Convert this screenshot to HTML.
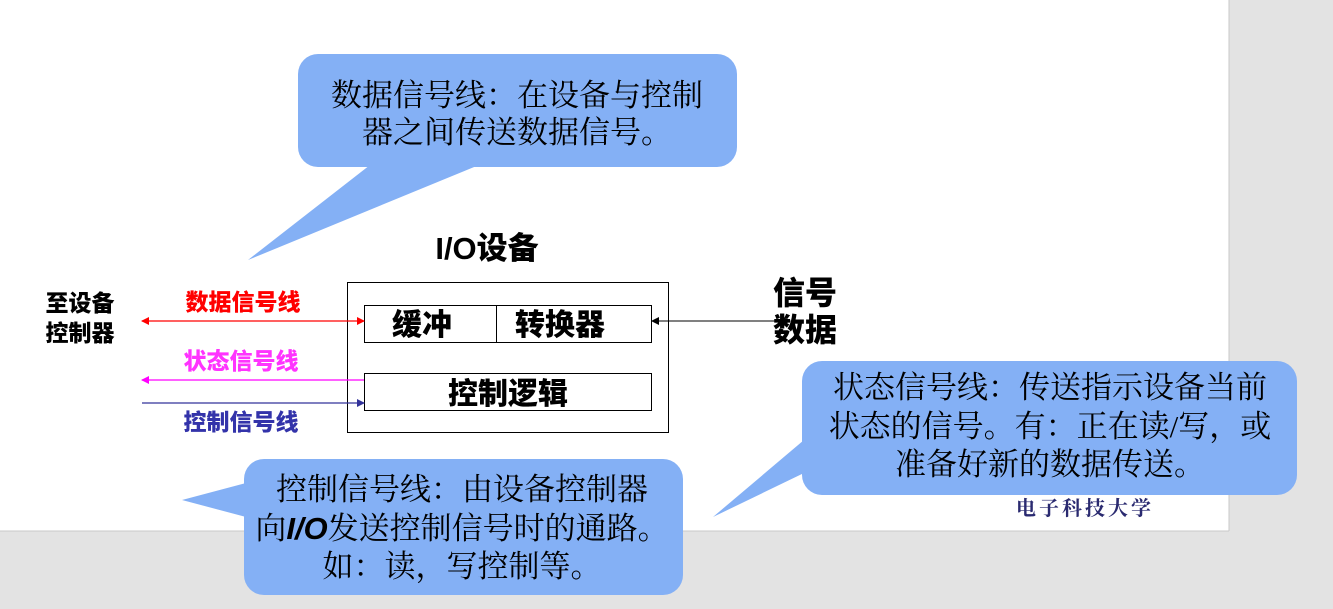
<!DOCTYPE html>
<html><head><meta charset="utf-8"><style>
html,body{margin:0;padding:0;background:#e3e3e3;}
svg{display:block}
.b{font-family:"Liberation Sans","Noto Sans CJK SC",sans-serif;font-weight:900}
.s{font-family:"Liberation Serif","Noto Serif CJK SC",serif;font-size:31px;fill:#000}
</style></head><body>
<svg width="1333" height="609" viewBox="0 0 1333 609">
<defs>
<marker id="rr" markerWidth="8" markerHeight="8" refX="7" refY="4" orient="auto-start-reverse" markerUnits="userSpaceOnUse"><path d="M0,0 L8,4 L0,8z" fill="#f00"/></marker>
<marker id="mm" markerWidth="8" markerHeight="8" refX="7" refY="4" orient="auto-start-reverse" markerUnits="userSpaceOnUse"><path d="M0,0 L8,4 L0,8z" fill="#f0f"/></marker>
<marker id="bb" markerWidth="8" markerHeight="8" refX="7" refY="4" orient="auto-start-reverse" markerUnits="userSpaceOnUse"><path d="M0,0 L8,4 L0,8z" fill="#33339a"/></marker>
<marker id="kk" markerWidth="8" markerHeight="8" refX="7" refY="4" orient="auto-start-reverse" markerUnits="userSpaceOnUse"><path d="M0,0 L8,4 L0,8z" fill="#000"/></marker>
</defs>
<rect x="0" y="0" width="1229" height="531" fill="#fff"/>
<line x1="0" y1="531" x2="1229" y2="531" stroke="#c8c8c8"/>
<line x1="1229" y1="0" x2="1229" y2="531" stroke="#c8c8c8"/>

<rect x="347.5" y="282.5" width="321" height="150" fill="none" stroke="#000"/>
<rect x="364.5" y="305.5" width="287" height="37" fill="none" stroke="#000"/>
<line x1="496.5" y1="305" x2="496.5" y2="342" stroke="#000"/>
<rect x="364.5" y="373.5" width="287" height="37" fill="none" stroke="#000"/>
<text class="b" x="422" y="335" font-size="30" text-anchor="middle">缓冲</text>
<text class="b" x="560" y="335" font-size="30" text-anchor="middle">转换器</text>
<text class="b" x="508" y="404" font-size="30" text-anchor="middle">控制逻辑</text>
<text class="b" x="487" y="259" font-size="31" text-anchor="middle">I/O设备</text>

<line x1="142" y1="321" x2="364" y2="321" stroke="#f00" stroke-width="1.2" marker-start="url(#rr)" marker-end="url(#rr)"/>
<line x1="364" y1="380" x2="142" y2="380" stroke="#f0f" stroke-width="1.2" marker-end="url(#mm)"/>
<line x1="142" y1="403" x2="364" y2="403" stroke="#33339a" stroke-width="1.2" marker-end="url(#bb)"/>
<line x1="652" y1="321" x2="790" y2="321" stroke="#000" stroke-width="1" marker-start="url(#kk)" marker-end="url(#kk)"/>

<text class="b" x="80" y="311" font-size="23" text-anchor="middle">至设备</text>
<text class="b" x="80" y="341" font-size="23" text-anchor="middle">控制器</text>
<text class="b" x="243" y="310" font-size="23" fill="#f00" text-anchor="middle">数据信号线</text>
<text class="b" x="241" y="369" font-size="23" fill="#f3f" text-anchor="middle">状态信号线</text>
<text class="b" x="241" y="430" font-size="23" fill="#3333aa" text-anchor="middle">控制信号线</text>
<text class="b" x="773" y="304" font-size="32">信号</text>
<text class="b" x="773" y="341" font-size="32">数据</text>
<text x="1085" y="515" font-size="20" fill="#2a2a70" text-anchor="middle" font-family="'Liberation Serif','Noto Serif CJK SC',serif" font-weight="bold" letter-spacing="3">电子科技大学</text>

<g fill="#84b0f5">
<rect x="298" y="54" width="439" height="113" rx="20"/>
<path d="M370,165 L479,165 L248,260z"/>
<rect x="802" y="361" width="495" height="134" rx="20"/>
<path d="M804,440 L804,473 L713,517z"/>
<rect x="244" y="459" width="439" height="136" rx="20"/>
<path d="M246,483 L246,517 L182,500z"/>
</g>
<text class="s" x="517" y="106" text-anchor="middle">数据信号线：在设备与控制</text>
<text class="s" x="517" y="143" text-anchor="middle">器之间传送数据信号。</text>
<text class="s" x="1050" y="398" text-anchor="middle">状态信号线：传送指示设备当前</text>
<text class="s" x="1050" y="437" text-anchor="middle">状态的信号。有：正在读/写，或</text>
<text class="s" x="1050" y="475" text-anchor="middle">准备好新的数据传送。</text>
<text class="s" x="462" y="500" text-anchor="middle">控制信号线：由设备控制器</text>
<text class="s" x="462" y="539" text-anchor="middle">向<tspan font-family="'Liberation Sans',sans-serif" font-weight="bold" font-style="italic">I/O</tspan>发送控制信号时的通路。</text>
<text class="s" x="462" y="577" text-anchor="middle">如：读，写控制等。</text>
</svg>
</body></html>
